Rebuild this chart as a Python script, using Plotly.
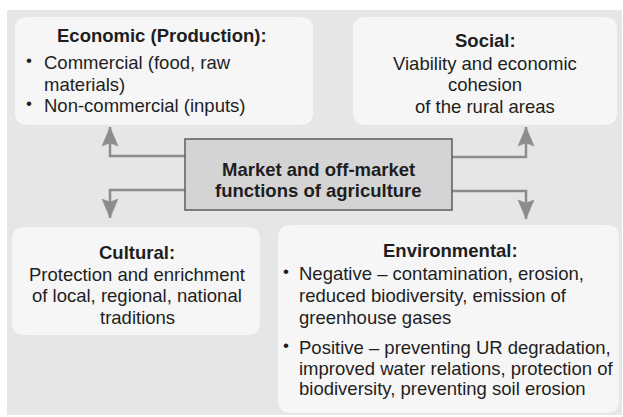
import plotly.graph_objects as go

# ---- content (text of the diagram) ----
center_lines = ["Market and off-market", "functions of agriculture"]

economic_title = "Economic (Production):"
economic_bullets = [["Commercial (food, raw", "materials)"], ["Non-commercial (inputs)"]]

social_title = "Social:"
social_lines = ["Viability and economic", "cohesion", "of the rural areas"]

cultural_title = "Cultural:"
cultural_lines = ["Protection and enrichment", "of local, regional, national", "traditions"]

environmental_title = "Environmental:"
environmental_bullets = [
    ["Negative \u2013 contamination, erosion,", "reduced biodiversity, emission of", "greenhouse gases"],
    ["Positive \u2013 preventing UR degradation,", "improved water relations, protection of", "biodiversity, preventing soil erosion"],
]

# ---- styling ----
W, H = 623, 417
BG = "#e5e6e7"
BOX = "#f6f6f6"
CENTER_FILL = "#d4d4d4"
CENTER_LINE = "#5c5c5c"
ARROW = "#8c8c8c"
TXT = "#1e1e1e"
FONT = "Liberation Sans, Arial, Helvetica, sans-serif"
FS = 18.5

fig = go.Figure()
shapes = []
annotations = []


def rrect(x0, y0, x1, y1, r, fill, line=None, lw=0):
    p = (f"M{x0 + r},{y0} L{x1 - r},{y0} Q{x1},{y0} {x1},{y0 + r} "
         f"L{x1},{y1 - r} Q{x1},{y1} {x1 - r},{y1} L{x0 + r},{y1} "
         f"Q{x0},{y1} {x0},{y1 - r} L{x0},{y0 + r} Q{x0},{y0} {x0 + r},{y0} Z")
    shapes.append(dict(type="path", path=p, xref="x", yref="y", fillcolor=fill,
                       line=dict(color=line or fill, width=lw), layer="below"))


def text(x, y, s, bold=False, anchor="center", size=FS):
    if bold:
        s = f"<b>{s}</b>"
    annotations.append(dict(x=x, y=y, xref="x", yref="y", text=s, showarrow=False,
                            xanchor=anchor, yanchor="middle",
                            font=dict(family=FONT, size=size, color=TXT)))


def bullet(x, y):
    annotations.append(dict(x=x, y=y - 2, xref="x", yref="y", text="\u2022", showarrow=False,
                            xanchor="center", yanchor="middle",
                            font=dict(family=FONT, size=17, color=TXT)))


def arrow(pts, up):
    p = "M" + " L".join(f"{x},{y}" for x, y in pts)
    shapes.append(dict(type="path", path=p, xref="x", yref="y",
                       line=dict(color=ARROW, width=2.5)))
    tx, ty = pts[-1]
    hw, hh, notch = 8, 19, 3
    if up:
        head = (f"M{tx},{ty} L{tx + hw},{ty + hh} L{tx},{ty + hh - notch} "
                f"L{tx - hw},{ty + hh} Z")
    else:
        head = (f"M{tx},{ty} L{tx + hw},{ty - hh} L{tx},{ty - hh + notch} "
                f"L{tx - hw},{ty - hh} Z")
    shapes.append(dict(type="path", path=head, xref="x", yref="y",
                       fillcolor=ARROW, line=dict(color=ARROW, width=0.5)))


# background panel
shapes.append(dict(type="rect", x0=7, y0=10, x1=622, y1=415, xref="x", yref="y",
                   fillcolor=BG, line=dict(width=0), layer="below"))

# boxes
rrect(15, 17, 313, 125, 13, BOX)
rrect(353, 17, 617, 125, 13, BOX)
rrect(12, 227, 260, 335, 13, BOX)
rrect(278, 225, 619, 413, 13, BOX)

# arrows
arrow([(185, 156), (110, 156), (110, 127)], True)
arrow([(185, 190), (110, 190), (110, 218)], False)
arrow([(452, 157), (526, 157), (526, 127)], True)
arrow([(452, 191), (526, 191), (526, 219)], False)

# center box
shapes.append(dict(type="rect", x0=185, y0=139, x1=452, y1=210, xref="x", yref="y",
                   fillcolor=CENTER_FILL, line=dict(color=CENTER_LINE, width=1.5)))
for y, s in zip([169, 190], center_lines):
    text(318.5, y, s, bold=True)

# economic
text(162, 35, economic_title, bold=True)
eco_y = [[62, 84], [105]]
for ys, lines in zip(eco_y, economic_bullets):
    bullet(29, ys[0])
    for y, s in zip(ys, lines):
        text(42, y, s, anchor="left")

# social
text(485, 40, social_title, bold=True)
for y, s in zip([63, 84, 106], social_lines):
    text(485, y, s)

# cultural
text(137, 252, cultural_title, bold=True)
for y, s in zip([274, 295, 317], cultural_lines):
    text(137, y, s)

# environmental
text(450, 250, environmental_title, bold=True)
env_y = [[273, 295, 317], [347, 368, 388]]
for ys, lines in zip(env_y, environmental_bullets):
    bullet(286, ys[0])
    for y, s in zip(ys, lines):
        text(297, y, s, anchor="left")

fig.update_layout(
    width=W, height=H,
    margin=dict(l=0, r=0, t=0, b=0),
    paper_bgcolor="white", plot_bgcolor="white",
    xaxis=dict(range=[0, W], visible=False, fixedrange=True),
    yaxis=dict(range=[H, 0], visible=False, fixedrange=True),
    shapes=shapes, annotations=annotations,
    showlegend=False,
)

fig.write_html("out.html", config={"displayModeBar": False},
               post_script="document.body.style.margin='0';document.body.style.overflow='hidden';")
